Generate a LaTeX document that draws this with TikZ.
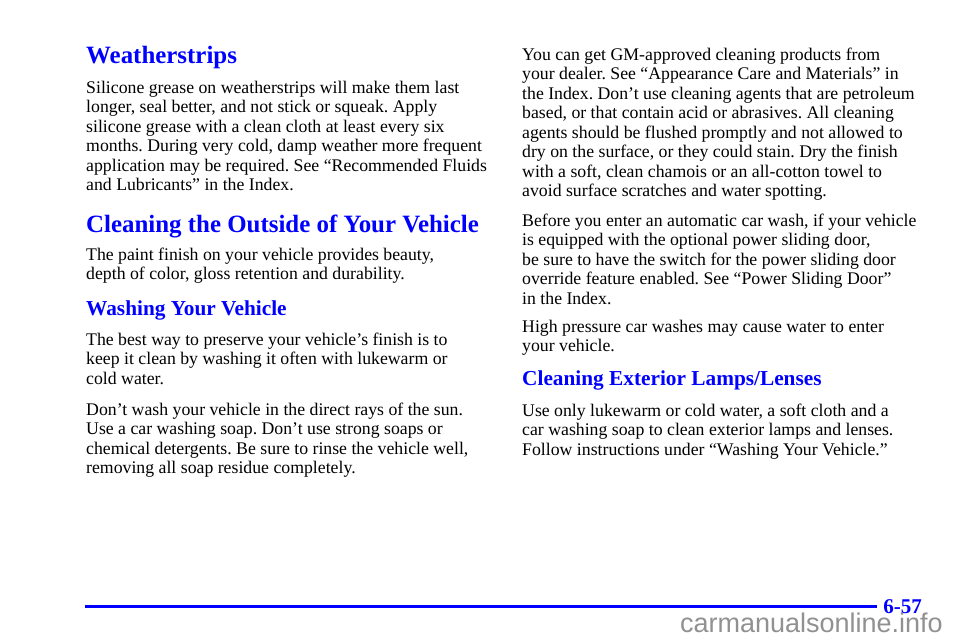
\documentclass[tikz,border=0pt]{standalone}
\usepackage{fontspec}
\setmainfont{Liberation Serif}
\newfontfamily\wmfont{Liberation Sans}
\definecolor{headblue}{RGB}{0,0,255}
\definecolor{wmgray}{RGB}{145,145,145}
\frenchspacing
\begin{document}
\begin{tikzpicture}[x=1pt,y=-1pt,
  body/.style={anchor=base west, inner sep=0pt, text=black, font=\fontsize{17.75}{19.5}\selectfont},
  headA/.style={anchor=base west, inner sep=0pt, text=headblue, font=\fontsize{24.9}{28}\selectfont\bfseries},
  headB/.style={anchor=base west, inner sep=0pt, text=headblue, font=\fontsize{21.3}{24}\selectfont\bfseries},
  pagenum/.style={anchor=base east, inner sep=0pt, text=headblue, font=\fontsize{21}{24}\selectfont\bfseries},
  wmark/.style={anchor=base east, inner sep=0pt, text=wmgray, font=\fontsize{27}{30}\wmfont},
  rule/.style={draw=headblue, line width=3pt}]
\useasboundingbox (0,0) rectangle (960,640);
\fill[white] (0,0) rectangle (960,640);
% left column
\node[headA] (h1) at (86,63.5) {Weatherstrips};
\node[body] (a1) at (86,93) {Silicone grease on weatherstrips will make them last};
\node[body] (a2) at (86,112.5) {longer, seal better, and not stick or squeak. Apply};
\node[body] (a3) at (86,132) {silicone grease with a clean cloth at least every six};
\node[body] (a4) at (86,151.5) {months. During very cold, damp weather more frequent};
\node[body] (a5) at (86,171) {application may be required. See “Recommended Fluids};
\node[body] (a6) at (86,190.5) {and Lubricants” in the Index.};
\node[headA] (h2) at (86,232) {Cleaning the Outside of Your Vehicle};
\node[body] (b1) at (86,260) {The paint finish on your vehicle provides beauty,};
\node[body] (b2) at (86,279.5) {depth of color, gloss retention and durability.};
\node[headB] (h3) at (86,315) {Washing Your Vehicle};
\node[body] (c1) at (86,345) {The best way to preserve your vehicle’s finish is to};
\node[body] (c2) at (86,364.5) {keep it clean by washing it often with lukewarm or};
\node[body] (c3) at (86,384) {cold water.};
\node[body] (d1) at (86,415) {Don’t wash your vehicle in the direct rays of the sun.};
\node[body] (d2) at (86,434.5) {Use a car washing soap. Don’t use strong soaps or};
\node[body] (d3) at (86,454) {chemical detergents. Be sure to rinse the vehicle well,};
\node[body] (d4) at (86,473.5) {removing all soap residue completely.};
% right column
\node[body] (e1) at (522,60) {You can get GM-approved cleaning products from};
\node[body] (e2) at (522,79.5) {your dealer. See “Appearance Care and Materials” in};
\node[body] (e3) at (522,99) {the Index. Don’t use cleaning agents that are petroleum};
\node[body] (e4) at (522,118.5) {based, or that contain acid or abrasives. All cleaning};
\node[body] (e5) at (522,138) {agents should be flushed promptly and not allowed to};
\node[body] (e6) at (522,157.5) {dry on the surface, or they could stain. Dry the finish};
\node[body] (e7) at (522,177) {with a soft, clean chamois or an all-cotton towel to};
\node[body] (e8) at (522,196.5) {avoid surface scratches and water spotting.};
\node[body] (f1) at (522,226) {Before you enter an automatic car wash, if your vehicle};
\node[body] (f2) at (522,245.5) {is equipped with the optional power sliding door,};
\node[body] (f3) at (522,265) {be sure to have the switch for the power sliding door};
\node[body] (f4) at (522,284.5) {override feature enabled. See “Power Sliding Door”};
\node[body] (f5) at (522,304) {in the Index.};
\node[body] (g1) at (522,332) {High pressure car washes may cause water to enter};
\node[body] (g2) at (522,351.5) {your vehicle.};
\node[headB] (h4) at (522,385) {Cleaning Exterior Lamps/Lenses};
\node[body] (k1) at (522,416) {Use only lukewarm or cold water, a soft cloth and a};
\node[body] (k2) at (522,435.5) {car washing soap to clean exterior lamps and lenses.};
\node[body] (k3) at (522,455) {Follow instructions under “Washing Your Vehicle.”};
% footer
\coordinate (rl) at (85,606);
\coordinate (rr) at (877,606);
\draw[rule] (rl) -- (rr);
\node[pagenum] (pn) at (922,613) {6-57};
\node[wmark] (wm) at (943,632.5) {carmanualsonline.info};
\end{tikzpicture}
\end{document}
